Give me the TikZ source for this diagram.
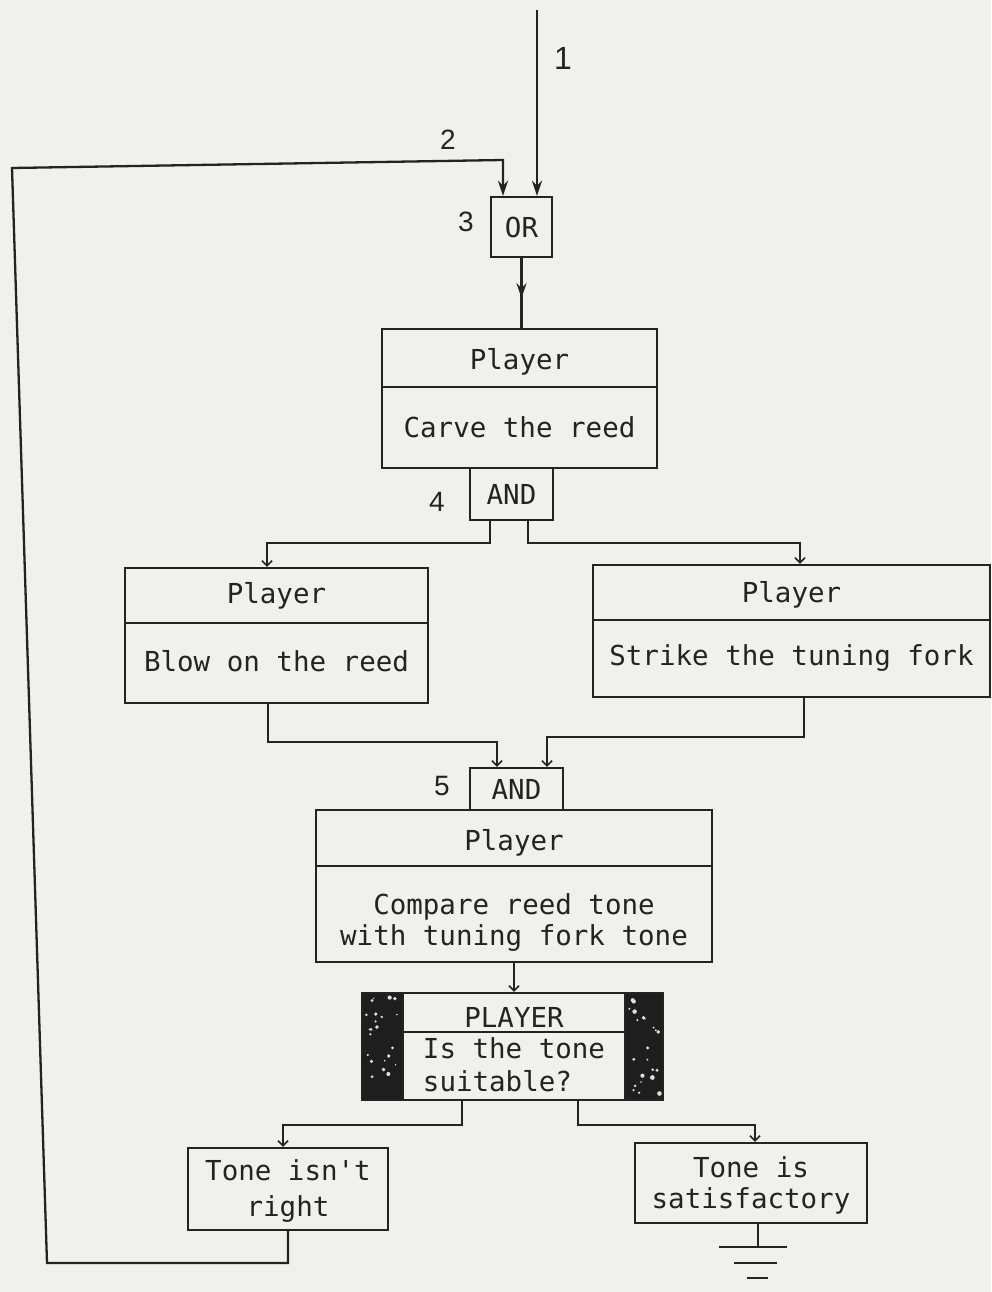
\documentclass[tikz,border=0pt]{standalone}
\usepackage{fontspec}
\newfontfamily\monof{DejaVu Sans Mono}
\newfontfamily\numf{Liberation Sans}
\usetikzlibrary{arrows.meta}
\definecolor{paper}{RGB}{240,240,236}
\definecolor{ink}{RGB}{35,35,35}
\definecolor{dark}{RGB}{30,30,30}
\newcommand{\lowr}[2]{\raisebox{-#1}[\height][\depth]{#2}}
\newcommand{\twol}[4]{\raisebox{-#1}[\height][\depth]{\begin{tabular}{@{}c@{}}#2\\[#4]#3\end{tabular}}}
\newcommand{\twoll}[4]{\raisebox{-#1}[\height][\depth]{\begin{tabular}{@{}l@{}}#2\\[#4]#3\end{tabular}}}
\begin{document}
\begin{tikzpicture}[x=1pt,y=-1pt,
  lw/.style={line width=2.3pt, draw=ink},
  box/.style={lw, rectangle, inner sep=0pt, font=\monof\fontsize{27.5}{31}\selectfont, text=ink},
  num/.style={font=\numf\fontsize{28}{28}\selectfont, text=ink, inner sep=0pt},
  big/.style={lw, -{Stealth[length=15pt,width=10pt]}},
  small/.style={lw, -{Straight Barb[length=5pt,width=10pt,line width=1.6pt]}}
]
\fill[paper] (0,0) rectangle (991,1292);
\useasboundingbox (0,0) rectangle (991,1292);

% boxes
\node[box, minimum width=61, minimum height=60] (or) at (521.5,227) {OR};
\node[box, minimum width=275, minimum height=58] (carveH) at (519.5,358) {\lowr{4pt}{Player}};
\node[box, minimum width=275, minimum height=81] (carveB) at (519.5,427.5) {Carve the reed};
\node[box, minimum width=83, minimum height=52] (and4) at (511.5,494) {AND};
\node[box, minimum width=303, minimum height=55] (blowH) at (276.5,595.5) {Player};
\node[box, minimum width=303, minimum height=80] (blowB) at (276.5,663) {\lowr{-2pt}{Blow on the reed}};
\node[box, minimum width=397, minimum height=55] (strikeH) at (791.5,592.5) {\lowr{2pt}{Player}};
\node[box, minimum width=397, minimum height=77] (strikeB) at (791.5,658.5) {Strike the tuning fork};
\node[box, minimum width=93, minimum height=42] (and5) at (516.5,789) {AND};
\node[box, minimum width=396, minimum height=56] (compH) at (514,838) {\lowr{5pt}{Player}};
\node[box, minimum width=396, minimum height=96] (compB) at (514,914) {\twol{10pt}{Compare reed tone}{with tuning fork tone}{0pt}};
\node[box, fill=dark, minimum width=301, minimum height=107] (dec) at (512.5,1046.5) {};
\pgfmathsetseed{11}
\foreach \i in {1,...,45} {
  \pgfmathsetmacro{\px}{ifthenelse(mod(\i,2)==0, 365+rnd*35, 627+rnd*33)}
  \pgfmathsetmacro{\py}{997+rnd*99}
  \pgfmathsetmacro{\pr}{0.8+rnd*1.6}
  \fill[paper!85!gray] (\px,\py) circle[radius=\pr pt];
}
\node[box, fill=paper, minimum width=222, minimum height=39] (decH) at (514,1012.5) {\lowr{5pt}{PLAYER}};
\node[box, fill=paper, minimum width=222, minimum height=68] (decB) at (514,1066) {\twoll{3pt}{Is the tone}{suitable?}{2pt}};
\node[box, minimum width=200, minimum height=82] (isnt) at (288,1189) {\twol{3pt}{Tone isn't}{right}{5pt}};
\node[box, minimum width=232, minimum height=80] (sat) at (751,1183) {\twol{4pt}{Tone is}{satisfactory}{0pt}};

% labels
\node[num, font=\numf\fontsize{32}{32}\selectfont] (l1) at (563,58) {1};
\node[num] (l2) at (448,140) {2};
\node[num] (l3) at (466,222) {3};
\node[num] (l4) at (437,502) {4};
\node[num] (l5) at (442,786) {5};

% helper coordinates
\coordinate (top1) at (537,10);
\coordinate (lb) at (47,1263);
\coordinate (lt) at (12,168);
\coordinate (d2) at (503,160);
\coordinate (b4l) at (490,543);
\coordinate (b4lt) at (267,543);
\coordinate (b4r) at (528,543);
\coordinate (b4rt) at (800,543);
\coordinate (c1) at (268,742);
\coordinate (c1t) at (497,742);
\coordinate (c2) at (804,737);
\coordinate (c2t) at (547,737);
\coordinate (e1) at (462,1125);
\coordinate (e1t) at (283,1125);
\coordinate (e2) at (578,1125);
\coordinate (e2t) at (755,1125);
\coordinate (g) at (758,1247);

% connectors
\draw[big] (top1) -- (top1 |- or.north);
\draw[big] (isnt.south) -- (isnt.south |- lb) -- (lb) -- (lt) -- (d2) -- (d2 |- or.north);
\draw[lw] (or.south) -- (or.south |- carveH.north);
\draw[big] (or.south) -- ++(0,40);
\draw[small] (b4l |- and4.south) -- (b4l) -- (b4lt) -- (b4lt |- blowH.north);
\draw[small] (b4r |- and4.south) -- (b4r) -- (b4rt) -- (b4rt |- strikeH.north);
\draw[small] (c1 |- blowB.south) -- (c1) -- (c1t) -- (c1t |- and5.north);
\draw[small] (c2 |- strikeB.south) -- (c2) -- (c2t) -- (c2t |- and5.north);
\draw[small] (compB.south) -- (compB.south |- dec.north);
\draw[small] (e1 |- dec.south) -- (e1) -- (e1t) -- (e1t |- isnt.north);
\draw[small] (e2 |- dec.south) -- (e2) -- (e2t) -- (e2t |- sat.north);

% ground
\draw[lw] (g |- sat.south) -- (g);
\draw[lw] (g) ++(-39,0) -- ++(68,0);
\draw[lw] (g) ++(-24,16) -- ++(43,0);
\draw[lw] (g) ++(-11,31) -- ++(21,0);
\end{tikzpicture}
\end{document}
